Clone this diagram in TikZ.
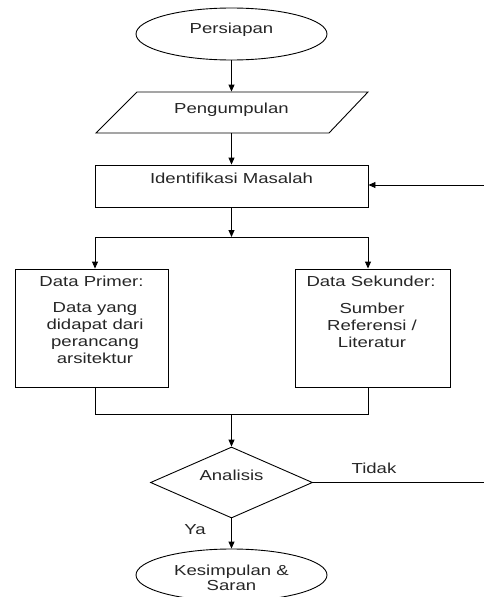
\documentclass[tikz,border=0pt]{standalone}
\usepackage{fontspec}
\setmainfont{Liberation Sans}[FakeStretch=1.28]
\usetikzlibrary{arrows.meta,shapes.geometric}
\begin{document}
\begin{tikzpicture}[x=1pt,y=-1pt, line width=0.9pt,
  every node/.style={font=\fontsize{14.5}{17}\selectfont, inner sep=0pt, text=black!85},
  arr/.style={-{Triangle[length=7pt,width=6pt]}},
  term/.style={ellipse, draw, minimum width=191pt, minimum height=52pt},
  procbox/.style={rectangle, draw},
  txt/.style={anchor=base},
  mtxt/.style={anchor=north, align=center}]
\useasboundingbox (0,0) rectangle (484,597);
\fill[white] (0,0) rectangle (484,597);
\begin{scope}
\clip (0,0) rectangle (484,597);
% terminals
\node[term] (prep) at (231.5,34) {};
\node[txt] (prept) at (231.5,33) {Persiapan};
% parallelogram
\node[rectangle, minimum width=200pt, minimum height=41pt] (peng) at (231.5,112.5) {};
\draw (137,92) -- (368,92) -- (329,133) -- (96,133) -- cycle;
\node[txt] (pengt) at (231.5,113) {Pengumpulan};
% identifikasi
\node[procbox, minimum width=273pt, minimum height=42pt] (iden) at (231.5,186) {};
\node[txt] (ident) at (231.5,183) {Identifikasi Masalah};
% data boxes
\node[procbox, minimum width=153pt, minimum height=118pt] (prim) at (91.5,328) {};
\node[txt] (primh) at (91.5,286) {Data Primer:};
\node[mtxt] (primb) at (95,302.5) {Data yang\\didapat dari\\perancang\\arsitektur};
\node[procbox, minimum width=155pt, minimum height=118pt] (sek) at (372.5,328) {};
\node[txt] (sekh) at (371,286) {Data Sekunder:};
\node[mtxt] (sekb) at (372,302.5) {Sumber\\Referensi /\\Literatur};
% decision
\node[diamond, draw, minimum width=162pt, minimum height=71pt] (ana) at (231.5,482.5) {};
\node[txt] (anat) at (231.5,480) {Analisis};
\node[txt] (tidak) at (374,473) {Tidak};
\node[txt] (ya) at (195,534) {Ya};
% end
\node[term] (kes) at (231.5,575) {};
\node[mtxt, font=\fontsize{14.5}{15.5}\selectfont] (kest) at (231.5,564.5) {Kesimpulan \&\\Saran};
% connectors
\draw[arr] (prep.south) -- (peng.north);
\draw[arr] (peng.south) -- (iden.north);
\coordinate (fbin) at (484,185);
\draw[arr] (fbin) -- (fbin -| iden.east);
\coordinate (split) at (231.5,237);
\coordinate (sL) at (95,237);
\coordinate (sR) at (368,237);
\draw[arr] (iden.south) -- (split);
\draw (sL) -- (sR);
\draw[arr] (sL) -- (sL |- prim.north);
\draw[arr] (sR) -- (sR |- sek.north);
\coordinate (jL) at (95,414);
\coordinate (jR) at (368,414);
\coordinate (jM) at (231.5,414);
\draw (sL |- prim.south) -- (jL) -- (jR) -- (sR |- sek.south);
\draw[arr] (jM) -- (ana.north);
\coordinate (tEnd) at (484,482.5);
\draw (ana.east) -- (tEnd);
\draw[arr] (ana.south) -- (kes.north);
\end{scope}
\end{tikzpicture}
\end{document}
